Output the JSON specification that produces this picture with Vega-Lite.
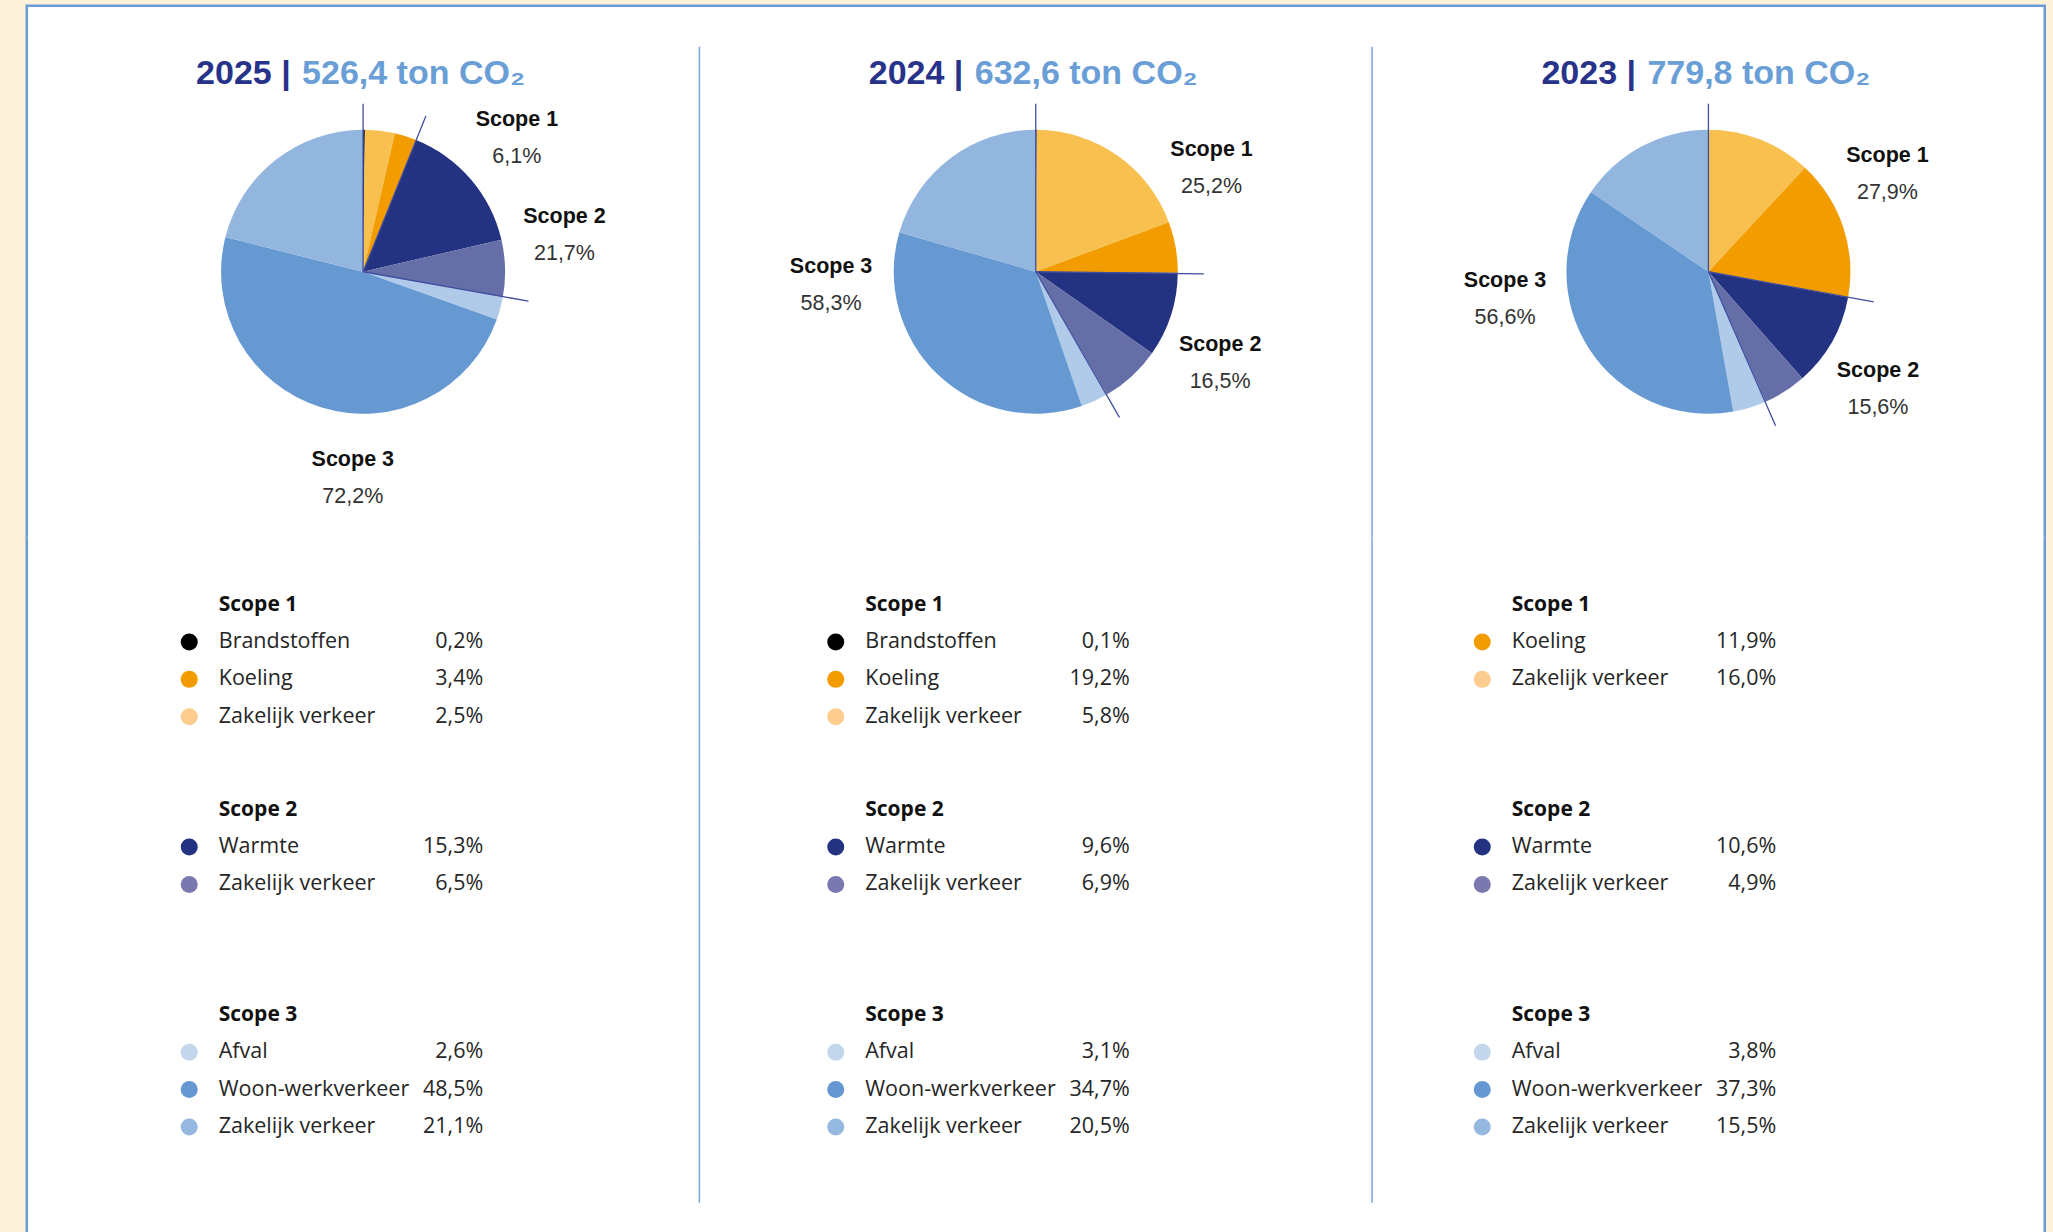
{
  "$schema": "https://vega.github.io/schema/vega-lite/v6.json",
  "background": "#FEF2DA",
  "padding": {"left": 24.75, "top": 3.75, "right": 7.75, "bottom": 0},
  "spacing": 0,
  "bounds": "flush",
  "resolve": {"scale": {"color": "independent", "x": "independent", "theta": "independent"}},
  "config": {
    "view": {"stroke": null},
    "axis": {"disable": true},
    "legend": {"disable": true},
    "locale": {"number": {"decimal": ",", "thousands": ".", "grouping": [3], "currency": ["€", ""]}}
  },
  "datasets": {
    "items": [
      {"year": "2025", "scope": "Scope 1", "rank": 1, "name": "Brandstoffen", "key": "Brandstoffen", "v": 0.002},
      {"year": "2025", "scope": "Scope 1", "rank": 2, "name": "Koeling", "key": "Koeling", "v": 0.034},
      {"year": "2025", "scope": "Scope 1", "rank": 3, "name": "Zakelijk verkeer", "key": "Zakelijk verkeer (scope 1)", "v": 0.025},
      {"year": "2025", "scope": "Scope 2", "rank": 1, "name": "Warmte", "key": "Warmte", "v": 0.153},
      {"year": "2025", "scope": "Scope 2", "rank": 2, "name": "Zakelijk verkeer", "key": "Zakelijk verkeer (scope 2)", "v": 0.065},
      {"year": "2025", "scope": "Scope 3", "rank": 1, "name": "Afval", "key": "Afval", "v": 0.026},
      {"year": "2025", "scope": "Scope 3", "rank": 2, "name": "Woon-werkverkeer", "key": "Woon-werkverkeer", "v": 0.485},
      {"year": "2025", "scope": "Scope 3", "rank": 3, "name": "Zakelijk verkeer", "key": "Zakelijk verkeer (scope 3)", "v": 0.211},
      {"year": "2024", "scope": "Scope 1", "rank": 1, "name": "Brandstoffen", "key": "Brandstoffen", "v": 0.001},
      {"year": "2024", "scope": "Scope 1", "rank": 2, "name": "Koeling", "key": "Koeling", "v": 0.192},
      {"year": "2024", "scope": "Scope 1", "rank": 3, "name": "Zakelijk verkeer", "key": "Zakelijk verkeer (scope 1)", "v": 0.058},
      {"year": "2024", "scope": "Scope 2", "rank": 1, "name": "Warmte", "key": "Warmte", "v": 0.096},
      {"year": "2024", "scope": "Scope 2", "rank": 2, "name": "Zakelijk verkeer", "key": "Zakelijk verkeer (scope 2)", "v": 0.069},
      {"year": "2024", "scope": "Scope 3", "rank": 1, "name": "Afval", "key": "Afval", "v": 0.031},
      {"year": "2024", "scope": "Scope 3", "rank": 2, "name": "Woon-werkverkeer", "key": "Woon-werkverkeer", "v": 0.347},
      {"year": "2024", "scope": "Scope 3", "rank": 3, "name": "Zakelijk verkeer", "key": "Zakelijk verkeer (scope 3)", "v": 0.205},
      {"year": "2023", "scope": "Scope 1", "rank": 1, "name": "Koeling", "key": "Koeling", "v": 0.119},
      {"year": "2023", "scope": "Scope 1", "rank": 2, "name": "Zakelijk verkeer", "key": "Zakelijk verkeer (scope 1)", "v": 0.160},
      {"year": "2023", "scope": "Scope 2", "rank": 1, "name": "Warmte", "key": "Warmte", "v": 0.106},
      {"year": "2023", "scope": "Scope 2", "rank": 2, "name": "Zakelijk verkeer", "key": "Zakelijk verkeer (scope 2)", "v": 0.049},
      {"year": "2023", "scope": "Scope 3", "rank": 1, "name": "Afval", "key": "Afval", "v": 0.038},
      {"year": "2023", "scope": "Scope 3", "rank": 2, "name": "Woon-werkverkeer", "key": "Woon-werkverkeer", "v": 0.373},
      {"year": "2023", "scope": "Scope 3", "rank": 3, "name": "Zakelijk verkeer", "key": "Zakelijk verkeer (scope 3)", "v": 0.155}
    ],
    "scopes": [
      {"year": "2025", "scope": "Scope 1", "share": 0.061, "label_at": 0.135},
      {"year": "2025", "scope": "Scope 2", "share": 0.217, "label_at": 0.220},
      {"year": "2025", "scope": "Scope 3", "share": 0.722, "label_at": 0.508},
      {"year": "2024", "scope": "Scope 1", "share": 0.252, "label_at": 0.164},
      {"year": "2024", "scope": "Scope 2", "share": 0.165, "label_at": 0.322},
      {"year": "2024", "scope": "Scope 3", "share": 0.583, "label_at": 0.741},
      {"year": "2023", "scope": "Scope 1", "share": 0.279, "label_at": 0.169},
      {"year": "2023", "scope": "Scope 2", "share": 0.156, "label_at": 0.345},
      {"year": "2023", "scope": "Scope 3", "share": 0.566, "label_at": 0.730}
    ],
    "years": [
      {"year": "2025", "total": 526.4},
      {"year": "2024", "total": 632.6},
      {"year": "2023", "total": 779.8}
    ]
  },
  "vconcat": [
    {
      "width": 2018,
      "height": 532,
      "view": {"fill": "white", "stroke": "#6A9BD6", "strokeWidth": 2.5, "strokeDash": [2550, 2018, 532]},
      "layer": [
        {
          "data": {"name": "items"},
          "transform": [
            {"stack": "v", "groupby": ["year"], "sort": [{"field": "scope", "order": "ascending"}, {"field": "rank", "order": "ascending"}], "offset": "normalize", "as": ["v0", "v1"]}
          ],
          "mark": {"type": "arc", "outerRadius": 142},
          "encoding": {
            "x": {"field": "year", "type": "nominal", "scale": {"type": "band", "domain": ["2025", "2024", "2023"], "paddingInner": 0, "paddingOuter": 0}},
            "theta": {"field": "v0", "type": "quantitative", "scale": {"domain": [0, 1], "range": [0, 6.283185307179586]}},
            "theta2": {"field": "v1"},
            "color": {
              "field": "key", "type": "nominal",
              "scale": {
                "domain": ["Brandstoffen", "Koeling", "Zakelijk verkeer (scope 1)", "Warmte", "Zakelijk verkeer (scope 2)", "Afval", "Woon-werkverkeer", "Zakelijk verkeer (scope 3)"],
                "range": ["#000000", "#F8C04F", "#F39C00", "#243282", "#666EA8", "#AFCBE9", "#6699D2", "#93B6DE"]
              }
            }
          }
        },
        {
          "data": {"name": "scopes"},
          "transform": [
            {"stack": "share", "groupby": ["year"], "sort": [{"field": "scope", "order": "ascending"}], "offset": "normalize", "as": ["s0", "s1"]}
          ],
          "mark": {"type": "arc", "outerRadius": 168, "fill": "transparent", "stroke": "#3F4E9F", "strokeWidth": 1.3},
          "encoding": {
            "x": {"field": "year", "type": "nominal"},
            "theta": {"field": "s0", "type": "quantitative"},
            "theta2": {"field": "s0"}
          }
        },
        {
          "data": {"name": "scopes"},
          "mark": {"type": "text", "radius": 205, "font": "Liberation Sans", "fontWeight": "bold", "fontSize": 21.5, "color": "#111111", "baseline": "alphabetic", "align": "center", "dy": -10},
          "encoding": {
            "x": {"field": "year", "type": "nominal"},
            "theta": {"field": "label_at", "type": "quantitative"},
            "text": {"field": "scope", "type": "nominal"}
          }
        },
        {
          "data": {"name": "scopes"},
          "mark": {"type": "text", "radius": 205, "font": "Liberation Sans", "fontSize": 21.5, "color": "#333333", "baseline": "alphabetic", "align": "center", "dy": 27},
          "encoding": {
            "x": {"field": "year", "type": "nominal"},
            "theta": {"field": "label_at", "type": "quantitative"},
            "text": {"field": "share", "type": "quantitative", "format": ".1%"}
          }
        },
        {
          "data": {"name": "years"},
          "mark": {"type": "text", "text": {"expr": "datum.year + ' |'"}, "font": "Liberation Sans", "fontWeight": "bold", "fontSize": 34, "color": "#27338A", "align": "left", "baseline": "alphabetic", "dx": -167, "dy": -188},
          "encoding": {"x": {"field": "year", "type": "nominal"}}
        },
        {
          "data": {"name": "years"},
          "mark": {"type": "text", "text": {"expr": "format(datum.total, ',.1f') + ' ton CO₂'"}, "font": "Liberation Sans", "fontWeight": "bold", "fontSize": 34, "color": "#6A9ED6", "align": "left", "baseline": "alphabetic", "dx": -61, "dy": -188},
          "encoding": {"x": {"field": "year", "type": "nominal"}}
        },
        {
          "data": {"name": "years"},
          "transform": [{"filter": "datum.year != '2023'"}],
          "mark": {"type": "rule", "color": "#78A6DC", "strokeWidth": 1.5, "strokeDash": [0, 41, 3000]},
          "encoding": {"x": {"field": "year", "type": "nominal", "bandPosition": 1}}
        }
      ]
    },
    {
      "width": 2018,
      "height": 695,
      "view": {"fill": "white", "stroke": "#6A9BD6", "strokeWidth": 2.5, "strokeDash": [0, 2018, 695, 2018, 695]},
      "resolve": {"scale": {"x": "independent"}},
      "layer": [
        {
          "data": {"name": "items"},
          "mark": {"type": "point", "filled": true, "size": 290, "opacity": 1},
          "encoding": {
            "x": {"field": "year", "type": "nominal", "bandPosition": 0.19064, "scale": {"type": "band", "domain": ["2025", "2024", "2023"], "paddingInner": 0, "paddingOuter": 0.0607, "align": 0.5}},
            "y": {"field": "scope", "type": "nominal", "scale": {"type": "band", "domain": ["Scope 1", "Scope 2", "Scope 3"], "paddingInner": 0.2706, "paddingOuter": 0.3296, "align": 0.3558}},
            "yOffset": {"field": "rank", "type": "ordinal", "scale": {"type": "band", "domain": [0, 1, 2, 3], "paddingInner": 0, "paddingOuter": 0}},
            "color": {
              "field": "key", "type": "nominal",
              "scale": {
                "domain": ["Brandstoffen", "Koeling", "Zakelijk verkeer (scope 1)", "Warmte", "Zakelijk verkeer (scope 2)", "Afval", "Woon-werkverkeer", "Zakelijk verkeer (scope 3)"],
                "range": ["#000000", "#F39C00", "#FDCD8F", "#243282", "#7B78B0", "#C3D7EC", "#6598D2", "#95B8E0"]
              }
            }
          }
        },
        {
          "data": {"name": "items"},
          "mark": {"type": "text", "align": "left", "baseline": "middle", "font": "Open Sans", "fontSize": 21.5, "color": "#262626"},
          "encoding": {
            "x": {"field": "year", "type": "nominal", "bandPosition": 0.23627, "scale": {"type": "band", "domain": ["2025", "2024", "2023"], "paddingInner": 0, "paddingOuter": 0.0607, "align": 0.5}},
            "y": {"field": "scope", "type": "nominal"},
            "yOffset": {"field": "rank", "type": "ordinal"},
            "text": {"field": "name", "type": "nominal"}
          }
        },
        {
          "data": {"name": "items"},
          "mark": {"type": "text", "align": "right", "baseline": "middle", "font": "Open Sans", "fontSize": 21.5, "color": "#262626"},
          "encoding": {
            "x": {"field": "year", "type": "nominal", "bandPosition": 0.64534, "scale": {"type": "band", "domain": ["2025", "2024", "2023"], "paddingInner": 0, "paddingOuter": 0.0607, "align": 0.5}},
            "y": {"field": "scope", "type": "nominal"},
            "yOffset": {"field": "rank", "type": "ordinal"},
            "text": {"field": "v", "type": "quantitative", "format": ".1%"}
          }
        },
        {
          "data": {"name": "scopes"},
          "mark": {"type": "text", "align": "left", "baseline": "middle", "font": "Open Sans", "fontWeight": "bold", "fontSize": 21, "color": "#111111"},
          "encoding": {
            "x": {"field": "year", "type": "nominal", "bandPosition": 0.23627, "scale": {"type": "band", "domain": ["2025", "2024", "2023"], "paddingInner": 0, "paddingOuter": 0.0607, "align": 0.5}},
            "y": {"field": "scope", "type": "nominal"},
            "yOffset": {"datum": 0, "type": "ordinal"},
            "text": {"field": "scope", "type": "nominal"}
          }
        },
        {
          "data": {"name": "years"},
          "transform": [{"filter": "datum.year != '2023'"}],
          "mark": {"type": "rule", "color": "#78A6DC", "strokeWidth": 1.5, "strokeDash": [665, 3000]},
          "encoding": {"x": {"field": "year", "type": "nominal", "bandPosition": 1, "scale": {"type": "band", "domain": ["2025", "2024", "2023"], "paddingInner": 0, "paddingOuter": 0}}}
        }
      ]
    }
  ]
}
